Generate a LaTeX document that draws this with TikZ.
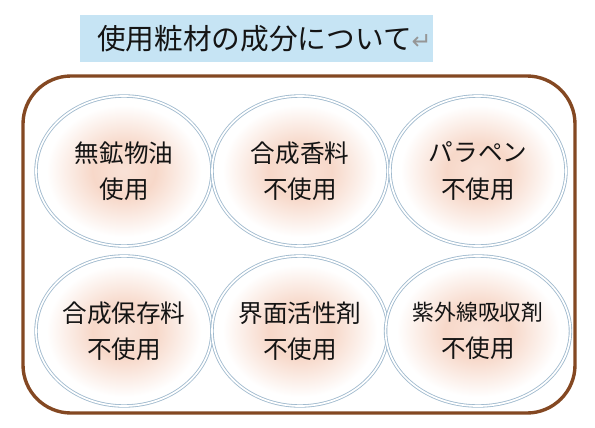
\documentclass[tikz,border=0pt]{standalone}
\usepackage{fontspec}
\setmainfont{Noto Sans CJK JP}
\newfontfamily\symfont{DejaVu Sans}
\usetikzlibrary{
    shapes.geometric,
    positioning,
    calc
}
\usepackage{xcolor}
\definecolor{titleblue}{RGB}{198,228,244}
\definecolor{framebrown}{RGB}{132,72,34}
\definecolor{ringblue}{RGB}{160,186,206}
\definecolor{peach}{RGB}{247,216,201}
\definecolor{textdark}{RGB}{20,20,20}
\definecolor{markgray}{RGB}{150,150,150}
\pgfdeclareradialshading{peachglow}{\pgfpoint{0bp}{0bp}}{
    color(0bp)=(peach!75);
    color(9bp)=(peach);
    color(22bp)=(white);
    color(50bp)=(white)
}
\tikzset{
    % Title
    titlebox/.style={
        rectangle,
        fill=titleblue,
        minimum width=8.825cm,
        minimum height=1.175cm,
        inner sep=0pt,
        font=\fontsize{20.4}{22}\selectfont,
        text=textdark
    },
    % Frame
    framebox/.style={
        draw=framebrown,
        line width=2.4pt,
        rounded corners=1.2cm
    },
    % Ingredients
    ingredient/.style={
        ellipse,
        draw=ringblue,
        line width=0.6pt,
        double=white,
        double distance=1.2pt,
        shading=peachglow,
        minimum width=4.4cm,
        minimum height=3.75cm,
        inner sep=0pt,
        align=center,
        font=\fontsize{17.5}{26}\selectfont,
        text=textdark
    }
}
\begin{document}
\begin{tikzpicture}
    \useasboundingbox (0,0) rectangle (14.875,10.675);
    \fill[white] (0,0) rectangle (14.875,10.675);

    % Title
    \node[titlebox] (title) at (6.41,9.71) {\hspace{0.4cm}使用粧材の成分について{\symfont\color{markgray}\fontsize{17}{18}\selectfont ↵}};

    % Frame
    \draw[framebox] (0.575,0.35) rectangle (14.375,8.775);

    % Upper row
    \node[ingredient] (mineral) at (3.1,6.4) {無鉱物油\\使用};
    \node[ingredient] (fragrance) at (7.5,6.4) {合成香料\\不使用};
    \node[ingredient] (paraben) at (11.95,6.4) {パラペン\\不使用};

    % Lower row
    \node[ingredient] (preservative) at (3.1,2.4) {合成保存料\\不使用};
    \node[ingredient] (surfactant) at (7.5,2.4) {界面活性剤\\不使用};
    \node[ingredient, font=\fontsize{15.5}{26}\selectfont] (uvabsorber) at (11.95,2.4) {紫外線吸収剤\\{\fontsize{17.5}{26}\selectfont 不使用}};

\end{tikzpicture}
\end{document}
